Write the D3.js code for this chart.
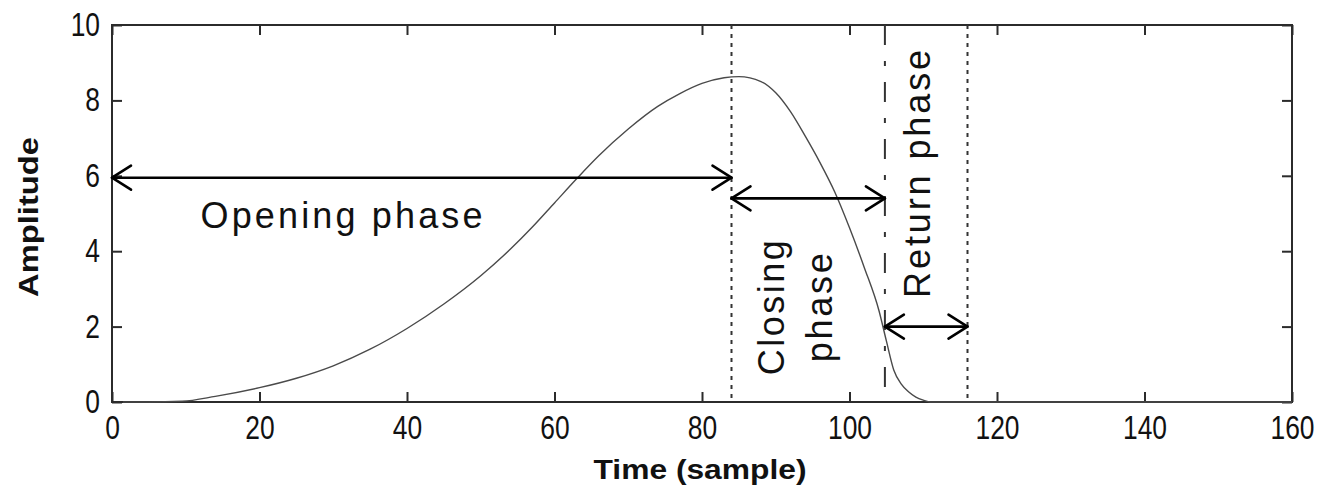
<!DOCTYPE html>
<html>
<head>
<meta charset="utf-8">
<script src="https://cdn.jsdelivr.net/npm/d3@7"></script>
<style>
  html, body { margin: 0; padding: 0; background: #fff; }
  svg { display: block; font-family: "Liberation Sans", Arial, sans-serif; }
</style>
</head>
<body>
<svg id="chart" width="1322" height="491"></svg>
<script>
// glottal flow pulse (sample -> amplitude)
const timeSamples = [1.5, 5, 9.5, 14, 20, 25, 30, 35, 40, 45, 50, 54, 57, 60, 63, 66, 70, 74, 77, 80, 83, 85, 88, 90, 92, 94, 96, 98, 100, 102, 104, 105, 106, 107, 108, 109, 110, 111, 160];
const amplitude   = [0, 0, 0.02, 0.15, 0.38, 0.63, 0.96, 1.4, 1.95, 2.6, 3.35, 4.05, 4.64, 5.28, 5.92, 6.53, 7.24, 7.84, 8.18, 8.45, 8.6, 8.63, 8.5, 8.2, 7.7, 7.05, 6.35, 5.57, 4.62, 3.57, 2.42, 1.62, 0.85, 0.48, 0.27, 0.13, 0.05, 0, 0];

const xTicks = [0, 20, 40, 60, 80, 100, 120, 140, 160];
const yTicks = [0, 2, 4, 6, 8, 10];

// phase boundaries (vertical lines)
const boundaryAt    = [84, 104.8, 116];
const boundaryStyle = ['4,5', '20,16,5,16', '4,5'];

// double arrows: start, end, level
const arrowFrom  = [0, 84, 104.8];
const arrowTo    = [84, 104.8, 116];
const arrowLevel = [5.95, 5.4, 2.0];

// annotation texts (data units: x = baseline / left, y = level)
const noteText   = ['Opening phase', 'Closing', 'phase', 'Return phase'];
const noteX      = [12, 91.1, 97.6, 110.9];
const noteY      = [4.62, 2.5, 2.5, 6.05];
const noteRotate = [false, true, true, true];
const noteLength = [282, 135, 109, 248];

const svg = d3.select('#chart');
const x = d3.scaleLinear().domain([0, 160]).range([112, 1292]);
const y = d3.scaleLinear().domain([0, 10]).range([402, 25]);

const ink = '#2b2b2b';

// axes (MATLAB style: inward ticks on every side)
const axBottom = svg.append('g').attr('transform', `translate(0,${y(0)})`)
  .call(d3.axisBottom(x).tickValues(xTicks).tickSizeInner(-10).tickSizeOuter(0).tickPadding(14));
const axTop = svg.append('g').attr('transform', `translate(0,${y(10)})`)
  .call(d3.axisTop(x).tickValues(xTicks).tickSizeInner(-10).tickSizeOuter(0).tickFormat(''));
const axLeft = svg.append('g').attr('transform', `translate(${x(0)},0)`)
  .call(d3.axisLeft(y).tickValues(yTicks).tickSizeInner(-10).tickSizeOuter(0).tickPadding(15));
const axRight = svg.append('g').attr('transform', `translate(${x(160)},0)`)
  .call(d3.axisRight(y).tickValues(yTicks).tickSizeInner(-10).tickSizeOuter(0).tickFormat(''));

[axBottom, axTop, axLeft, axRight].forEach(g => {
  g.select('.domain').remove();
  g.selectAll('.tick line').attr('stroke', ink).attr('stroke-width', 2);
  g.selectAll('.tick text')
    .attr('fill', '#111')
    .style('font-size', '33px')
    .style('font-family', '"Liberation Sans", Arial, sans-serif')
    .attr('transform', 'scale(0.8,1)');
});

svg.append('rect')
  .attr('x', x(0)).attr('y', y(10))
  .attr('width', x(160) - x(0)).attr('height', y(0) - y(10))
  .attr('fill', 'none').attr('stroke', ink).attr('stroke-width', 2);

// axis titles
svg.append('text')
  .attr('x', (x(0) + x(160)) / 2 - 2).attr('y', 479)
  .attr('text-anchor', 'middle')
  .attr('textLength', 213).attr('lengthAdjust', 'spacingAndGlyphs')
  .style('font-size', '28px').style('font-weight', 'bold').attr('fill', '#111')
  .text('Time (sample)');

svg.append('text')
  .attr('transform', 'translate(38,217) rotate(-90)')
  .attr('text-anchor', 'middle')
  .attr('textLength', 160).attr('lengthAdjust', 'spacingAndGlyphs')
  .style('font-size', '28px').style('font-weight', 'bold').attr('fill', '#111')
  .text('Amplitude');

// phase boundary lines
svg.append('g').selectAll('line')
  .data(boundaryAt)
  .join('line')
  .attr('x1', d => x(d)).attr('x2', d => x(d))
  .attr('y1', y(10)).attr('y2', y(0))
  .attr('stroke', '#333').attr('stroke-width', 2)
  .attr('stroke-dasharray', (d, i) => boundaryStyle[i]);

// waveform
const pts = timeSamples.map((t, i) => [t, amplitude[i]]);
svg.append('path')
  .datum(pts)
  .attr('fill', 'none')
  .attr('stroke', '#4a4a4a')
  .attr('stroke-width', 1.4)
  .attr('d', d3.line().x(d => x(d[0])).y(d => y(d[1])).curve(d3.curveMonotoneX));

// double-headed arrows with open chevron heads
const arrows = arrowFrom.map((f, i) => ({ f, t: arrowTo[i], v: arrowLevel[i] }));
const ag = svg.append('g').attr('stroke', '#000').attr('stroke-width', 2.6).attr('fill', 'none')
  .attr('stroke-linecap', 'round').attr('stroke-linejoin', 'round');
const headDx = 19, headDy = 12;
arrows.forEach(a => {
  const x1 = x(a.f), x2 = x(a.t), yy = y(a.v);
  ag.append('line').attr('x1', x1).attr('x2', x2).attr('y1', yy).attr('y2', yy);
  ag.append('path').attr('d', `M${x1 + headDx},${yy - headDy}L${x1},${yy}L${x1 + headDx},${yy + headDy}`);
  ag.append('path').attr('d', `M${x2 - headDx},${yy - headDy}L${x2},${yy}L${x2 - headDx},${yy + headDy}`);
});

// phase labels
noteText.forEach((txt, i) => {
  const t = svg.append('text')
    .style('font-size', '36px').attr('fill', '#111')
    .attr('textLength', noteLength[i]).attr('lengthAdjust', 'spacing')
    .text(txt);
  if (noteRotate[i]) {
    t.attr('text-anchor', 'middle')
      .attr('transform', `translate(${x(noteX[i])},${y(noteY[i])}) rotate(-90)`);
  } else {
    t.attr('x', x(noteX[i])).attr('y', y(noteY[i]));
  }
});
</script>
</body>
</html>
